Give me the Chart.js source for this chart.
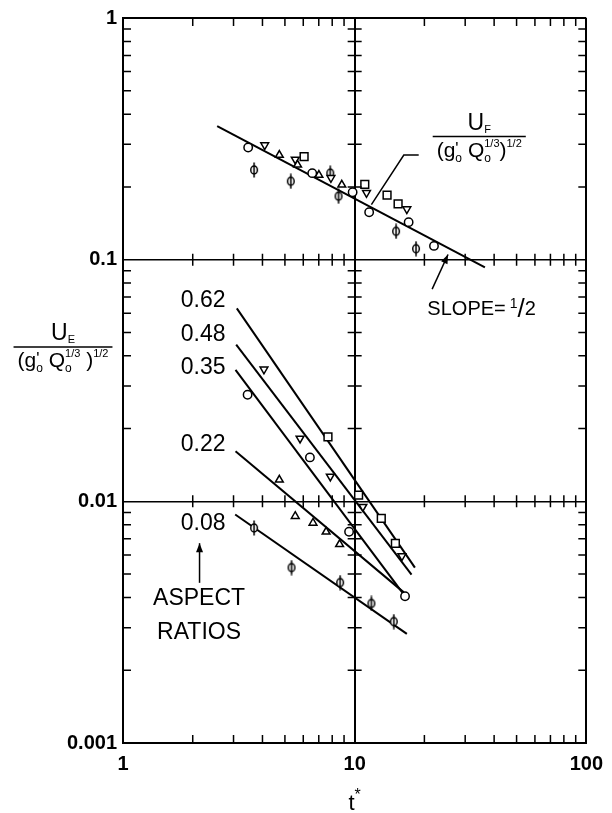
<!DOCTYPE html>
<html lang="en">
<head>
  <meta charset="UTF-8">
  <meta name="viewport" content="width=device-width, initial-scale=1.0">
  <title>Front and entrainment velocity vs t*</title>
  <script src="https://cdn.jsdelivr.net/npm/chart.js"></script>
  <style>
    body { margin: 0; background: #fff; }
    canvas { display: block; }
  </style>
</head>
<body>

  <canvas id="grafico" width="612" height="813"></canvas>

  <script>
    // ticks (decades only, labelled)
    const xTickValues = [1, 10, 100];
    const xTickLabels = ['1', '10', '100'];
    const yTickValues = [0.001, 0.01, 0.1, 1];
    const yTickLabels = ['0.001', '0.01', '0.1', '1'];
    const minorSteps = [2, 3, 4, 5, 6, 7, 8, 9];

    // front velocity U_F, points as [t*, value]
    const frontCircles  = [[3.47, 0.291], [6.56, 0.228], [9.8, 0.19], [11.55, 0.157], [17.1, 0.143], [22.0, 0.114]];
    const frontPhi      = [[3.68, 0.235], [5.3, 0.211], [7.85, 0.228], [8.52, 0.183], [15.1, 0.131], [18.4, 0.111]];
    const frontTriUp    = [[4.73, 0.271], [5.67, 0.247], [7.01, 0.224], [8.8, 0.204]];
    const frontTriDown  = [[4.09, 0.298], [5.54, 0.26], [7.9, 0.218], [11.25, 0.189], [16.8, 0.162]];
    const frontSquares  = [[6.05, 0.267], [11.06, 0.205], [13.8, 0.185], [15.4, 0.17]];
    const frontSlopeLine = [[2.55, 0.357], [36.5, 0.093]];

    // entrainment velocity U_E, points as [t*, value]
    const entrCircles  = [[3.45, 0.0276], [6.41, 0.0152], [9.46, 0.00748], [16.5, 0.00405]];
    const entrTriDown  = [[4.06, 0.0352], [5.81, 0.0182], [7.85, 0.01267], [10.85, 0.0095], [16.0, 0.00594]];
    const entrSquares  = [[7.67, 0.0185], [10.4, 0.0106], [13.03, 0.0085], [14.99, 0.0067]];
    const entrTriUp    = [[4.73, 0.01228], [5.54, 0.00868], [6.61, 0.00814], [7.53, 0.00748], [8.61, 0.00664]];
    const entrPhi      = [[3.68, 0.00776], [5.34, 0.00532], [8.66, 0.00461], [11.81, 0.00378], [14.75, 0.00318]];

    // fitted lines for each aspect ratio
    const aspectRatios = ['0.62', '0.48', '0.35', '0.22', '0.08'];
    const aspectLines = [
      [[3.1, 0.0629], [18.2, 0.00532]],
      [[3.08, 0.0445], [17.6, 0.00497]],
      [[3.06, 0.0350], [16.5, 0.00405]],
      [[3.06, 0.0161], [16.3, 0.0042]],
      [[3.05, 0.00882], [16.8, 0.00283]]
    ];
    const aspectLabelY = [0.0678, 0.0491, 0.0359, 0.01717, 0.00812];

    const FONT = '"Liberation Sans", Arial, Helvetica, sans-serif';
    const toPts = arr => arr.map(([x, y]) => ({ x, y }));

    // phi marker: narrow open ellipse with a vertical bar through it
    function makePhi() {
      const c = document.createElement('canvas');
      c.width = 10; c.height = 16;
      const g = c.getContext('2d');
      g.strokeStyle = '#000';
      g.fillStyle = '#fff';
      g.lineWidth = 1.5;
      g.beginPath(); g.ellipse(5, 8, 3.3, 4, 0, 0, Math.PI * 2); g.fill(); g.stroke();
      g.beginPath(); g.moveTo(5, 0.5); g.lineTo(5, 15.5); g.stroke();
      return c;
    }
    const phi = makePhi();

    function markers(data, style, extra) {
      return Object.assign({
        data: toPts(data),
        showLine: false,
        pointStyle: style,
        pointRadius: 4,
        borderColor: '#000',
        backgroundColor: '#fff',
        borderWidth: 1.5
      }, extra || {});
    }
    function line(data) {
      return {
        data: toPts(data),
        showLine: true,
        pointRadius: 0,
        borderColor: '#000',
        borderWidth: 2,
        fill: false
      };
    }

    const datasets = [
      markers(frontCircles.concat(entrCircles), 'circle', { pointRadius: 4.2 }),
      markers(frontTriUp.concat(entrTriUp), 'triangle', { pointRadius: 4.5 }),
      markers(frontTriDown.concat(entrTriDown), 'triangle', { pointRadius: 4.5, rotation: 180 }),
      markers(frontSquares.concat(entrSquares), 'rect', { pointRadius: 5.5 }),
      markers(frontPhi.concat(entrPhi), phi),
      line(frontSlopeLine)
    ].concat(aspectLines.map(line));

    // text made of pieces: [text, size, dy, noAdvance]
    function drawPieces(ctx, list, x, y, align) {
      let w = 0;
      const ws = list.map(p => {
        ctx.font = p[1] + 'px ' + FONT;
        const m = ctx.measureText(p[0]).width;
        if (!p[3]) w += m;
        return m;
      });
      let cx = align === 'center' ? x - w / 2 : align === 'right' ? x - w : x;
      ctx.textAlign = 'left';
      ctx.textBaseline = 'alphabetic';
      list.forEach((p, i) => {
        ctx.font = p[1] + 'px ' + FONT;
        ctx.fillText(p[0], cx, y + p[2]);
        if (!p[3]) cx += ws[i];
      });
      return w;
    }
    function measurePieces(ctx, list) {
      let w = 0;
      list.forEach(p => { ctx.font = p[1] + 'px ' + FONT; if (!p[3]) w += ctx.measureText(p[0]).width; });
      return w;
    }
    function fraction(ctx, cx, barY, num, den) {
      const w = measurePieces(ctx, den);
      drawPieces(ctx, num, cx, barY - 7, 'center');
      drawPieces(ctx, den, cx, barY + 20, 'center');
      ctx.lineWidth = 1.5;
      ctx.beginPath();
      ctx.moveTo(cx - w / 2 - 4, barY);
      ctx.lineTo(cx + w / 2 + 4, barY);
      ctx.stroke();
    }
    function arrow(ctx, x1, y1, x2, y2) {
      ctx.lineWidth = 1.5;
      ctx.beginPath(); ctx.moveTo(x1, y1); ctx.lineTo(x2, y2); ctx.stroke();
      const a = Math.atan2(y2 - y1, x2 - x1);
      const L = 9, H = 3.5;
      ctx.beginPath();
      ctx.moveTo(x2, y2);
      ctx.lineTo(x2 - L * Math.cos(a) + H * Math.sin(a), y2 - L * Math.sin(a) - H * Math.cos(a));
      ctx.lineTo(x2 - L * Math.cos(a) - H * Math.sin(a), y2 - L * Math.sin(a) + H * Math.cos(a));
      ctx.closePath();
      ctx.fill();
    }

    const denUE = [['(', 21, 0], ['g', 21, 0], ["'", 17, -3, true], ['o', 12, 5], [' ', 21, 0], ['Q', 21, 0],
                   ['o', 12, 5, true], ['1/3', 11, -10], [' )', 21, 0], ['1/2', 11, -10]];
    const denUF = [['(', 21, 0], ['g', 21, 0], ["'", 17, -3, true], ['o', 12, 5], [' ', 21, 0], ['Q', 21, 0],
                   ['o', 12, 5, true], ['1/3', 11, -10], [')', 21, 0], ['1/2', 11, -10]];

    const extras = {
      id: 'extras',
      afterDatasetsDraw(chart) {
        const ctx = chart.ctx;
        const xs = chart.scales.x, ys = chart.scales.y;
        const area = chart.chartArea;
        const X = v => xs.getPixelForValue(v);
        const Y = v => ys.getPixelForValue(v);
        ctx.save();
        ctx.strokeStyle = '#000';
        ctx.fillStyle = '#000';

        // minor ticks on the frame and on the inner decade lines
        ctx.lineWidth = 1.5;
        const innerX = xTickValues.slice(1, -1).map(X);
        const innerY = yTickValues.slice(1, -1).map(Y);
        ctx.beginPath();
        xTickValues.slice(0, -1).forEach(d => minorSteps.forEach(m => {
          const px = X(d * m);
          ctx.moveTo(px, area.bottom); ctx.lineTo(px, area.bottom - 8);
          ctx.moveTo(px, area.top); ctx.lineTo(px, area.top + 8);
          innerY.forEach(py => { ctx.moveTo(px, py - 6); ctx.lineTo(px, py + 6); });
        }));
        yTickValues.slice(0, -1).forEach(d => minorSteps.forEach(m => {
          const py = Y(d * m);
          ctx.moveTo(area.left, py); ctx.lineTo(area.left + 8, py);
          ctx.moveTo(area.right, py); ctx.lineTo(area.right - 8, py);
          innerX.forEach(px => { ctx.moveTo(px - 7, py); ctx.lineTo(px + 7, py); });
        }));
        ctx.stroke();

        // aspect ratio labels
        ctx.font = '23px ' + FONT;
        ctx.textAlign = 'right';
        ctx.textBaseline = 'middle';
        aspectRatios.forEach((t, i) => ctx.fillText(t, X(2.77), Y(aspectLabelY[i])));

        ctx.textAlign = 'center';
        ctx.font = '23px ' + FONT;
        ctx.fillText('ASPECT', X(2.13), Y(0.00395));
        ctx.fillText('RATIOS', X(2.13), Y(0.00286));
        arrow(ctx, X(2.14), Y(0.0046), X(2.14), Y(0.00671));

        // slope annotation
        drawPieces(ctx, [['SLOPE=', 20, 0], [' ', 14, 0], ['1', 14, -7], ['/', 26, 2], ['2', 20, 0]], X(20.6), Y(0.0588), 'left');
        arrow(ctx, X(21.6), Y(0.0755), X(25.3), Y(0.105));

        // U_F label with leader
        fraction(ctx, X(34.5), Y(0.323), [['U', 23, 0], ['F', 11, 3]], denUF);
        ctx.lineWidth = 1.5;
        ctx.beginPath();
        ctx.moveTo(X(18.9), Y(0.271));
        ctx.lineTo(X(16.3), Y(0.271));
        ctx.lineTo(X(11.81), Y(0.169));
        ctx.stroke();

        // y axis title
        fraction(ctx, area.left - 60, Y(0.0435), [['U', 23, 0], ['E', 11, 3]], denUE);

        // x axis title
        drawPieces(ctx, [['t', 22, 0], ['*', 16, -10]], X(10), area.bottom + 67, 'center');
        ctx.restore();
      }
    };

    new Chart(document.getElementById('grafico'), {
      type: 'scatter',
      data: { datasets },
      options: {
        responsive: false,
        animation: false,
        layout: { padding: { top: 14, right: 18, left: 0, bottom: 0 } },
        plugins: { legend: { display: false }, tooltip: { enabled: false } },
        scales: {
          x: {
            type: 'logarithmic',
            min: 1,
            max: 100,
            afterBuildTicks: s => { s.ticks = xTickValues.map(v => ({ value: v })); },
            afterFit: s => { s.height = 70; },
            ticks: {
              callback: (v, i) => xTickLabels[i],
              font: { family: FONT, size: 20, weight: 'bold' },
              color: '#000',
              padding: 9,
              maxRotation: 0,
              autoSkip: false
            },
            grid: { color: '#000', lineWidth: 2, drawTicks: false },
            border: { color: '#000', width: 2 }
          },
          y: {
            type: 'logarithmic',
            min: 0.001,
            max: 1,
            afterBuildTicks: s => { s.ticks = yTickValues.map(v => ({ value: v })); },
            afterFit: s => { s.width = 123; },
            ticks: {
              callback: (v, i) => yTickLabels[i],
              font: { family: FONT, size: 20, weight: 'bold' },
              color: '#000',
              padding: 6,
              autoSkip: false
            },
            grid: {
              color: '#000',
              lineWidth: c => (c.tick && c.tick.value === 1 ? 2 : 1.5),
              drawTicks: false
            },
            border: { color: '#000', width: 2 }
          }
        }
      },
      plugins: [extras]
    });
  </script>

</body>
</html>
